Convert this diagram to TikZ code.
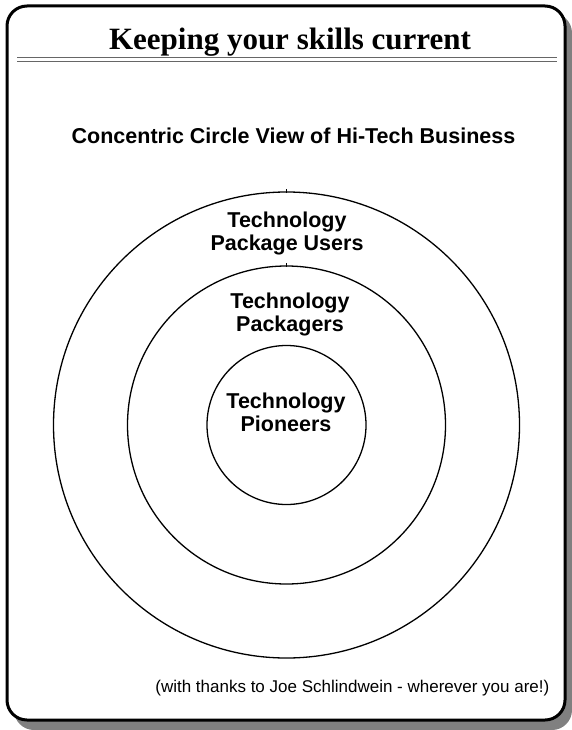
\documentclass[tikz,border=0pt]{standalone}
\usepackage{fontspec}
\setmainfont{Liberation Serif}
\setsansfont{Liberation Sans}
\usetikzlibrary{positioning}

\begin{document}
\begin{tikzpicture}[x=1pt, y=-1pt, semithick]
        \tikzstyle{ring}=[circle,draw=black,line width=1.3pt,inner sep=0pt]
        \tikzstyle{label}=[font=\sffamily\bfseries\fontsize{21.5}{23}\selectfont,align=center,anchor=base]
        
        \useasboundingbox (0,0) rectangle (572,730);
        
        % frame with shadow
        \fill[gray,rounded corners=20pt] (14,13) rectangle (572,730);
        \draw[fill=white,line width=3pt,rounded corners=20pt] (7,6) rectangle (565,720);
        
        \node[font=\rmfamily\bfseries\fontsize{31}{36}\selectfont,anchor=base] (title) at (290,50) {Keeping your skills current};
        \draw[gray!80!black,line width=1.4pt] (17,57.5) -- (557,57.5);
        \draw[gray!80!black,line width=1.4pt] (17,61.5) -- (557,61.5);
        
        \node[font=\sffamily\bfseries\fontsize{21.5}{25}\selectfont,anchor=base] (head) at (293.5,144) {Concentric Circle View of Hi-Tech Business};
        
        \node[ring,minimum size=466pt] (users)     at (286.5,425) {};
        \node[ring,minimum size=318pt] (packagers) at (286.5,425) {};
        \node[ring,minimum size=159pt] (pioneers)  at (286.5,425) {};
        \draw[line width=1pt] (users.north) ++(0,-2) -- ++(0,4);
        \draw[line width=1pt] (packagers.north) ++(0,-2) -- ++(0,4);
        
        \node[label] (userstext)    at (287,250) {Technology\\Package Users};
        \node[label] (packagerstext) at (290,331) {Technology\\Packagers};
        \node[label] (pioneerstext)  at (286,431) {Technology\\Pioneers};
        
        \node[font=\sffamily\fontsize{17}{20}\selectfont,anchor=base east] (thanks) at (553,692) {(with thanks to Joe Schlindwein - wherever you are!)};
    \end{tikzpicture}
\end{document}
